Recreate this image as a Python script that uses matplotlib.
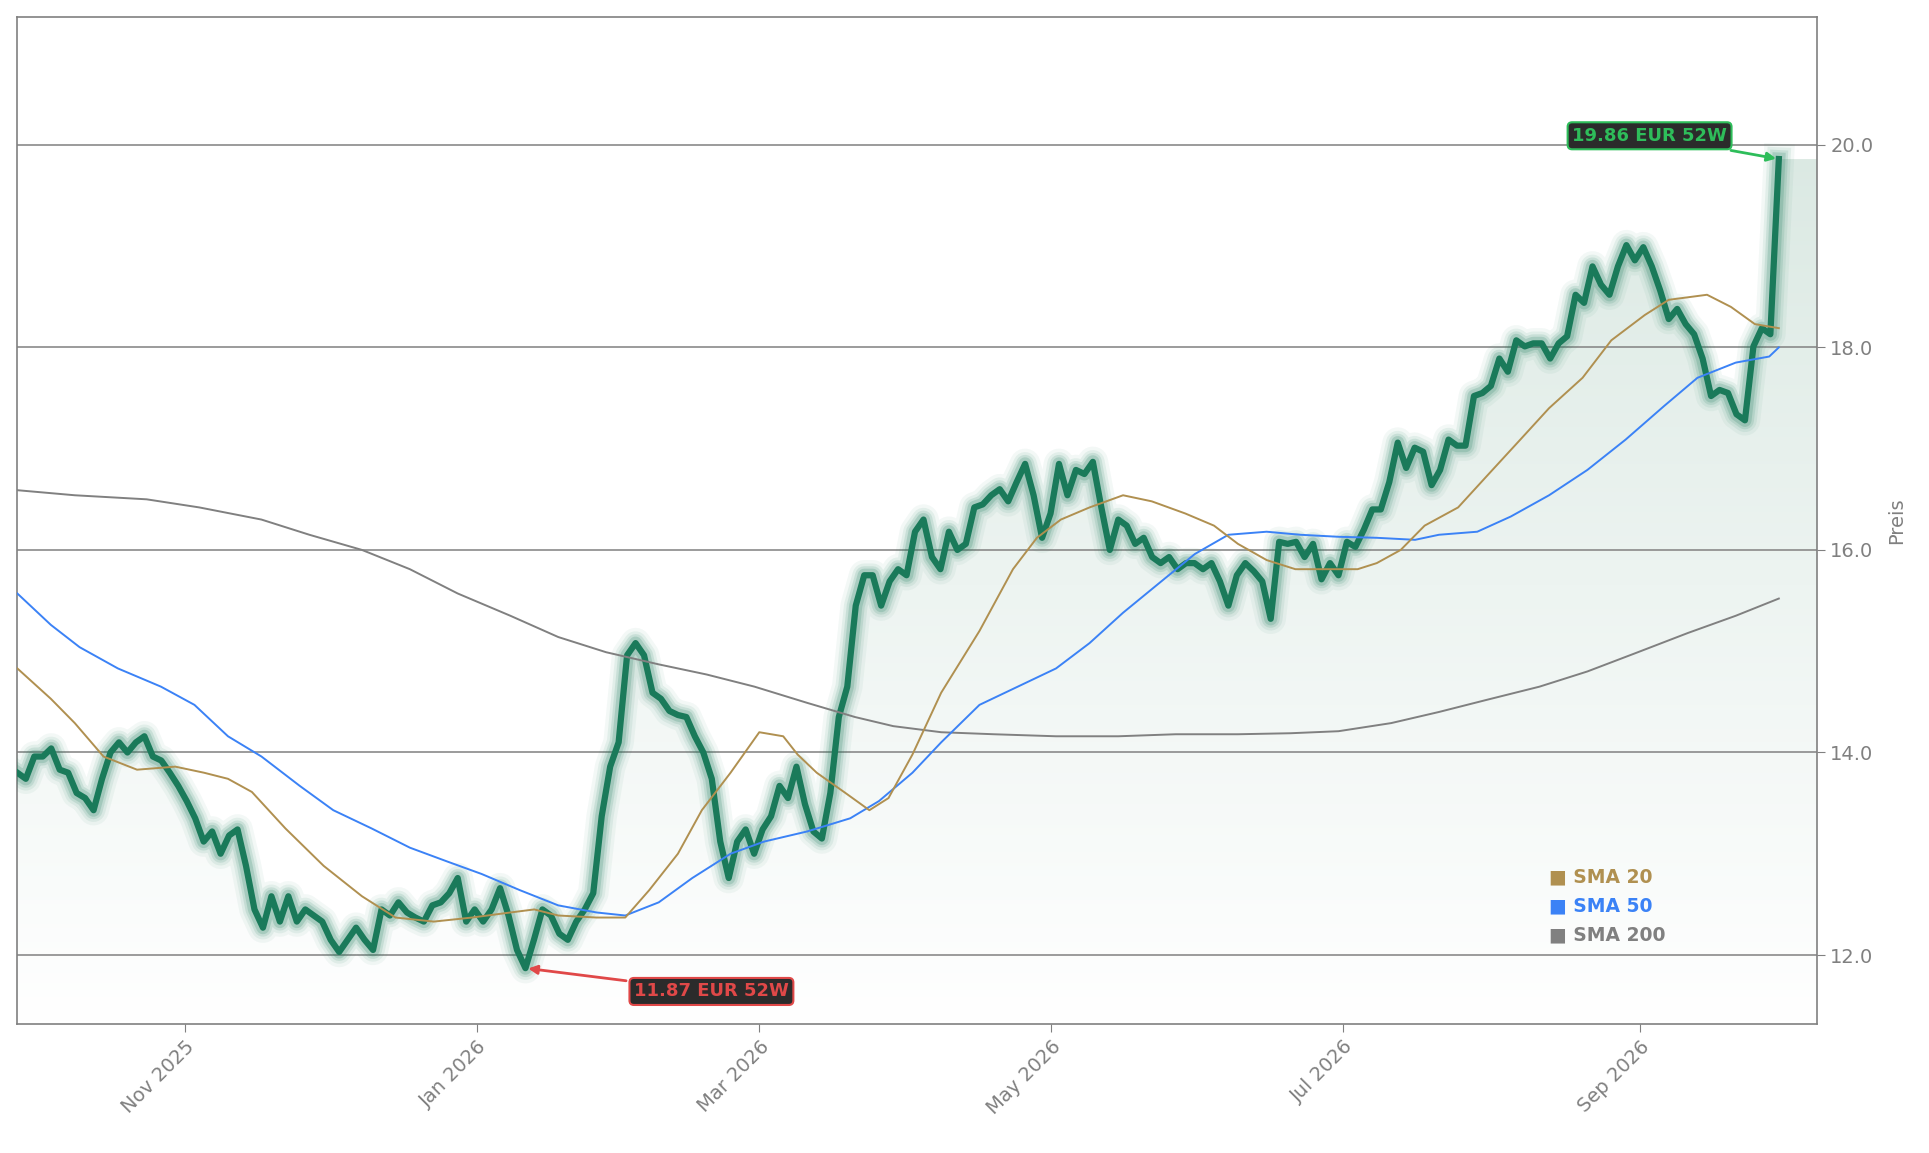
import numpy as np
import pandas as pd
import matplotlib
matplotlib.use("Agg")
import matplotlib.pyplot as plt
import matplotlib.dates as mdates
from matplotlib.colors import LinearSegmentedColormap

start = pd.Timestamp("2025-09-27")
end = pd.Timestamp("2026-09-30")

price = [13.8,13.74,13.96,13.96,14.04,13.83,13.8,13.6,13.55,13.43,13.74,14.0,14.1,14.0,14.1,14.16,13.96,13.92,13.8,13.67,
13.52,13.35,13.12,13.22,13.0,13.18,13.24,12.88,12.45,12.27,12.58,12.33,12.58,12.33,12.45,12.39,12.33,12.15,12.03,12.15,
12.27,12.15,12.05,12.45,12.39,12.52,12.42,12.37,12.33,12.49,12.52,12.61,12.76,12.33,12.45,12.33,12.45,12.66,12.39,12.05,
11.87,12.15,12.45,12.39,12.21,12.15,12.33,12.45,12.61,13.37,13.86,14.1,14.96,15.08,14.96,14.59,14.53,14.41,14.37,14.35,
14.16,14.0,13.74,13.12,12.76,13.12,13.24,13.0,13.24,13.37,13.67,13.55,13.86,13.49,13.22,13.15,13.6,14.35,14.65,15.45,
15.75,15.75,15.45,15.69,15.81,15.75,16.18,16.3,15.93,15.81,16.18,16.0,16.06,16.42,16.45,16.54,16.6,16.48,16.67,16.85,
16.54,16.12,16.36,16.85,16.54,16.79,16.75,16.87,16.42,16.0,16.3,16.24,16.06,16.12,15.93,15.87,15.93,15.81,15.87,15.87,
15.81,15.87,15.69,15.45,15.75,15.87,15.79,15.69,15.32,16.08,16.06,16.08,15.93,16.06,15.71,15.87,15.75,16.08,16.03,16.2,
16.4,16.4,16.67,17.06,16.81,17.01,16.97,16.64,16.79,17.09,17.03,17.03,17.52,17.55,17.62,17.89,17.76,18.07,18.01,18.04,
18.04,17.89,18.04,18.11,18.52,18.44,18.8,18.62,18.52,18.8,19.01,18.86,18.99,18.8,18.56,18.28,18.38,18.23,18.13,17.89,
17.52,17.58,17.55,17.34,17.28,18.01,18.19,18.13,19.86]

sma20_days = [0,7,12,18,25,33,39,44,49,56,64,72,79,87,95,103,108,113,121,127,132,138,143,149,155,160,163,167,173,178,182,187,193,201,208,213,218,224,231,237,244,250,255,261,267,274,280,284,289,294,301,307,314,320,327,333,340,345,353,358,363,368]
sma20 = [14.83,14.53,14.29,13.96,13.83,13.86,13.8,13.74,13.61,13.25,12.88,12.58,12.37,12.33,12.37,12.42,12.45,12.39,12.37,12.37,12.64,13.0,13.43,13.8,14.2,14.16,13.98,13.8,13.6,13.43,13.55,13.98,14.59,15.2,15.81,16.12,16.3,16.42,16.54,16.48,16.36,16.24,16.06,15.9,15.81,15.81,15.81,15.87,16.0,16.24,16.42,16.73,17.09,17.4,17.7,18.07,18.32,18.47,18.52,18.4,18.23,18.19]
sma50_days = [0,7,13,21,30,37,44,51,59,66,74,82,90,97,105,113,121,127,134,141,149,156,165,174,180,187,193,201,209,217,224,231,239,246,253,261,268,276,284,292,297,305,312,320,328,336,344,351,359,366,368]
sma50 = [15.57,15.26,15.04,14.83,14.65,14.47,14.16,13.96,13.67,13.43,13.25,13.06,12.92,12.8,12.64,12.49,12.42,12.39,12.52,12.76,13.0,13.12,13.22,13.35,13.52,13.8,14.1,14.47,14.65,14.83,15.08,15.38,15.69,15.96,16.15,16.18,16.15,16.13,16.12,16.1,16.15,16.18,16.33,16.54,16.79,17.09,17.42,17.7,17.85,17.91,18.0]
sma200_days = [0,12,27,38,51,61,72,82,92,103,113,123,134,144,154,165,175,183,193,204,217,230,242,255,266,276,287,297,307,318,328,338,349,359,368]
sma200 = [16.59,16.54,16.5,16.42,16.3,16.15,16.0,15.81,15.57,15.35,15.14,14.99,14.87,14.77,14.65,14.49,14.35,14.26,14.2,14.18,14.16,14.16,14.18,14.18,14.19,14.21,14.29,14.4,14.52,14.65,14.8,14.98,15.18,15.35,15.52]

hi_val, lo_val = 19.86, 11.87
hi_label = "19.86 EUR 52W"
lo_label = "11.87 EUR 52W"

dates = pd.date_range(start, end, periods=len(price))
d20 = start + pd.to_timedelta(sma20_days, unit="D")
d50 = start + pd.to_timedelta(sma50_days, unit="D")
d200 = start + pd.to_timedelta(sma200_days, unit="D")

W, H = 1929, 1153
fig = plt.figure(figsize=(W/100, H/100), dpi=100)
ax = fig.add_axes([0.009, 0.112, 0.933, 0.873])
ymin, ymax = 11.32, 21.26
xmin, xmax = start, pd.Timestamp("2026-10-08")
ax.set_xlim(xmin, xmax)
ax.set_ylim(ymin, ymax)

xd = list(dates) + [dates[-1] + pd.Timedelta(days=8)]
yd = price + [price[-1]]
poly = ax.fill_between(xd, yd, ymin, color="none")
grad = np.linspace(0, 1, 256).reshape(-1, 1)
cm = LinearSegmentedColormap.from_list("g", ["#ffffff", "#dbe9e3"])
im = ax.imshow(grad, extent=[mdates.date2num(xmin), mdates.date2num(xmax), ymin, 20.0],
               origin="lower", aspect="auto", cmap=cm, zorder=1)
im.set_clip_path(poly.get_paths()[0], transform=ax.transData)

for y in [12, 14, 16, 18, 20]:
    ax.axhline(y, color="#8a8a8a", lw=1.2, zorder=2)

for lw, a in [(22, 0.05), (17, 0.08), (13, 0.12), (9.5, 0.18)]:
    ax.plot(dates, price, color="#1a7a5a", lw=lw, alpha=a, solid_joinstyle="round", zorder=3)
ax.plot(dates, price, color="#1a7a5a", lw=4.5, zorder=4, solid_joinstyle="round")

ax.plot(d200, sma200, color="#808080", lw=1.4, zorder=5)
ax.plot(d50, sma50, color="#3b82f6", lw=1.4, zorder=5)
ax.plot(d20, sma20, color="#b09050", lw=1.4, zorder=5)

ax.annotate(hi_label, xy=(dates[-1], hi_val), xytext=(start + pd.Timedelta(days=341), 20.09),
            ha="center", va="center", fontsize=13, fontweight="bold", color="#2ebd5a",
            bbox=dict(boxstyle="round,pad=0.25", fc="#2b2b2b", ec="#2ebd5a", lw=1.5),
            arrowprops=dict(arrowstyle="-|>", color="#2ebd5a", lw=2), zorder=10)
ax.annotate(lo_label, xy=(dates[60], lo_val), xytext=(start + pd.Timedelta(days=145), 11.64),
            ha="center", va="center", fontsize=13, fontweight="bold", color="#e04848",
            bbox=dict(boxstyle="round,pad=0.25", fc="#2b2b2b", ec="#e04848", lw=1.5),
            arrowprops=dict(arrowstyle="-|>", color="#e04848", lw=2), zorder=10)

for i, (lab, col) in enumerate([("SMA 20", "#b09050"), ("SMA 50", "#3b82f6"), ("SMA 200", "#808080")]):
    ax.text(0.851, 0.146 - i*0.029, "\u25a0 " + lab, transform=ax.transAxes, color=col,
            fontsize=13.5, fontweight="bold", va="center", ha="left", zorder=10)

ax.yaxis.tick_right()
ax.yaxis.set_label_position("right")
ax.set_yticks([12, 14, 16, 18, 20])
ax.yaxis.set_major_formatter(matplotlib.ticker.FormatStrFormatter("%.1f"))
ax.set_ylabel("Preis", color="#808080", fontsize=14, labelpad=10)
ax.xaxis.set_major_locator(mdates.MonthLocator(bymonth=[1, 3, 5, 7, 9, 11]))
ax.xaxis.set_major_formatter(mdates.DateFormatter("%b %Y"))
plt.setp(ax.get_xticklabels(), rotation=45, ha="right", rotation_mode="anchor")
ax.tick_params(colors="#808080", labelsize=14, length=6)
for s in ax.spines.values():
    s.set_color("#808080")
    s.set_linewidth(1.2)

fig.savefig("out.png", dpi=100, facecolor="white")
